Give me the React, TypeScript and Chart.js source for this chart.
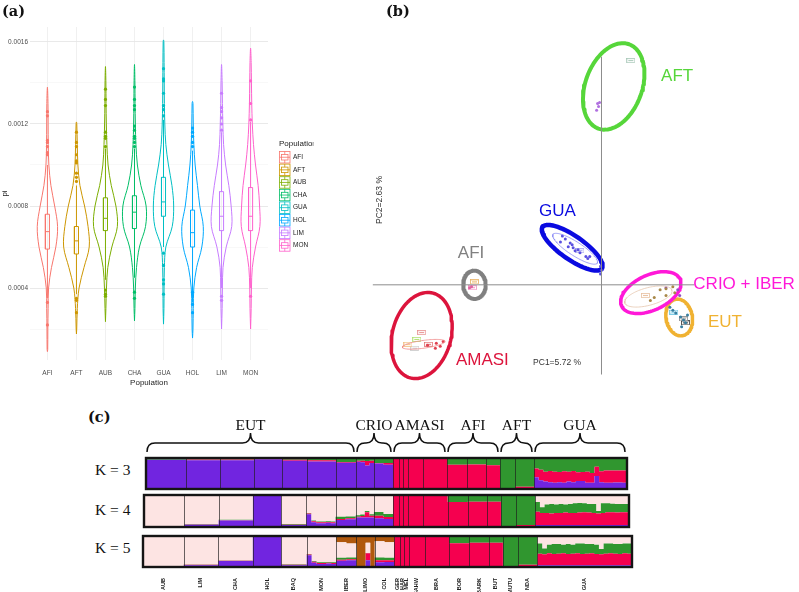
import React, { useEffect, useRef } from "react";
import { Chart, registerables } from "chart.js";
Chart.register(...registerables);
Chart.defaults.font.family = '"Liberation Sans", Arial, sans-serif';

// ---------------- Panel (a): nucleotide diversity (pi) violins ----------------
const popLabels = ["AFI", "AFT", "AUB", "CHA", "GUA", "HOL", "LIM", "MON"];
const popColors = ["#F8766D", "#CD9600", "#7CAE00", "#00BE67", "#00BFC4", "#00A9FF", "#C77CFF", "#FF61CC"];
const piGridLines = [0.0002, 0.0004, 0.0006, 0.0008, 0.001, 0.0012, 0.0014, 0.0016];
const piTicks = [0.0004, 0.0008, 0.0012, 0.0016];
const piLevels = [0.0001, 0.0002, 0.0003, 0.0004, 0.0005, 0.0006, 0.0007, 0.0008, 0.0009, 0.001, 0.0011, 0.0012, 0.0013, 0.0014, 0.0015, 0.0016];
const violinMin = [0.00009, 0.000176, 0.000236, 0.00024, 0.000224, 0.000156, 0.0002, 0.0002];
const violinMax = [0.00138, 0.00121, 0.00148, 0.00149, 0.00161, 0.00131, 0.00149, 0.00157];
const violinAFI = [0.01, 0.015, 0.025, 0.04, 0.14, 0.29, 0.35, 0.25, 0.12, 0.05, 0.03, 0.025, 0.02, 0, 0, 0];
const violinAFT = [0, 0.01, 0.03, 0.09, 0.26, 0.44, 0.40, 0.28, 0.12, 0.05, 0.03, 0.012, 0, 0, 0, 0];
const violinAUB = [0, 0, 0.015, 0.035, 0.08, 0.22, 0.41, 0.36, 0.20, 0.09, 0.05, 0.03, 0.02, 0.015, 0, 0];
const violinCHA = [0, 0, 0.015, 0.03, 0.07, 0.17, 0.38, 0.40, 0.22, 0.10, 0.05, 0.03, 0.02, 0.015, 0, 0];
const violinGUA = [0, 0, 0.015, 0.02, 0.03, 0.08, 0.30, 0.35, 0.29, 0.17, 0.08, 0.045, 0.03, 0.025, 0.02, 0.012];
const violinHOL = [0, 0.015, 0.025, 0.045, 0.14, 0.32, 0.37, 0.25, 0.17, 0.09, 0.045, 0.025, 0.015, 0, 0, 0];
const violinLIM = [0, 0.01, 0.02, 0.03, 0.05, 0.16, 0.35, 0.33, 0.25, 0.14, 0.07, 0.045, 0.03, 0.02, 0, 0];
const violinMON = [0, 0.01, 0.02, 0.03, 0.06, 0.17, 0.32, 0.31, 0.26, 0.17, 0.10, 0.06, 0.04, 0.03, 0.02, 0];
const violinWidths = [violinAFI, violinAFT, violinAUB, violinCHA, violinGUA, violinHOL, violinLIM, violinMON];
const boxQ1 = [0.00059, 0.000566, 0.00068, 0.00069, 0.00075, 0.0006, 0.00068, 0.00068];
const boxMedian = [0.000675, 0.00063, 0.00074, 0.00077, 0.00082, 0.00067, 0.00075, 0.00075];
const boxQ3 = [0.00076, 0.0007, 0.00084, 0.00085, 0.00094, 0.00078, 0.00087, 0.00089];
const whiskerLow = [0.00035, 0.00037, 0.00044, 0.00045, 0.0006, 0.00033, 0.0004, 0.0004];
const whiskerHigh = [0.001, 0.0009, 0.00108, 0.00108, 0.00122, 0.00107, 0.00116, 0.00121];
const outAFI = [0.00126, 0.00124, 0.00112, 0.00111, 0.00109, 0.00106, 0.00105, 0.00033, 0.00022];
const outAFT = [0.00116, 0.00111, 0.00109, 0.00105, 0.00102, 0.00101, 0.00096, 0.00094, 0.00092, 0.00035, 0.00034, 0.00028];
const outAUB = [0.00137, 0.00132, 0.00129, 0.00116, 0.00114, 0.00113, 0.00109, 0.00039, 0.00037, 0.00036];
const outCHA = [0.00138, 0.00132, 0.00129, 0.00127, 0.00119, 0.00117, 0.00114, 0.00113, 0.00111, 0.00109, 0.00038, 0.00035];
const outGUA = [0.00147, 0.00142, 0.00141, 0.00135, 0.00129, 0.00127, 0.00124, 0.00057, 0.00051, 0.00044, 0.00042, 0.00037];
const outHOL = [0.00118, 0.00116, 0.00114, 0.00111, 0.00109, 0.00038, 0.00032, 0.00028];
const outLIM = [0.00135, 0.00128, 0.00126, 0.00123, 0.0012, 0.00117, 0.00036, 0.00034];
const outMON = [0.00141, 0.0013, 0.00122, 0.00036];
const outliers = [outAFI, outAFT, outAUB, outCHA, outGUA, outHOL, outLIM, outMON];

// ---------------- Panel (b): PCA ----------------
const groupNames = ["AFT", "GUA", "AFI", "AMASI", "CRIO + IBER", "EUT"];
const groupColors = ["#56d63a", "#0a0ae0", "#808080", "#dc143c", "#ff18d8", "#f0b232"];
const ellCx = [0.0125, -0.030, -0.130, -0.184, 0.0505, 0.0795];
const ellCy = [0.2035, 0.038, 0.0, -0.052, -0.008, -0.0335];
const ellA = [0.046, 0.037, 0.0115, 0.045, 0.033, 0.019];
const ellB = [0.029, 0.012, 0.0145, 0.030, 0.018, 0.0135];
const ellAngle = [70, -35, 0, 75, 25, 100];
const ellWidth = [4, 4.5, 4, 3.5, 3.5, 3.5];
const labelX = [0.061, -0.064, -0.147, -0.149, 0.094, 0.109];
const labelY = [0.214, 0.075, 0.032, -0.077, 0.001, -0.038];
const innerCx = [-0.027, -0.182, 0.048];
const innerCy = [0.037, -0.061, -0.012];
const innerA = [0.027, 0.022, 0.025];
const innerB = [0.007, 0.004, 0.009];
const innerAngle = [-33, 8, 15];
const innerColors = ["#8a8af5", "#f08a8a", "#e6c6ae"];
const pcAxisX = [-0.234, 0.095];
const pcAxisY = [-0.092, 0.234];
const ptsAFT = [[-0.004, 0.186], [-0.005, 0.179], [-0.003, 0.183], [-0.002, 0.187]];
const ptsGUA = [[-0.040, 0.050], [-0.037, 0.047], [-0.042, 0.044], [-0.032, 0.043], [-0.034, 0.039], [-0.030, 0.041], [-0.027, 0.035], [-0.024, 0.036], [-0.029, 0.038], [-0.022, 0.033], [-0.016, 0.029], [-0.014, 0.027], [-0.012, 0.029], [-0.001, 0.019], [0.0, 0.015], [-0.001, 0.011]];
const ptsAFI = [[-0.135, -0.003], [-0.133, -0.002]];
const ptsAMASI = [[-0.169, -0.060], [-0.165, -0.063], [-0.170, -0.065], [-0.162, -0.058], [-0.178, -0.062]];
const ptsCRIO = [[0.060, -0.005], [0.066, -0.004], [0.073, -0.002], [0.075, -0.008], [0.054, -0.013], [0.050, -0.016], [0.066, -0.011]];
const ptsIBER = [[0.066, -0.003], [0.078, -0.005], [0.080, -0.011]];
const ptsEUT = [[0.070, -0.023], [0.073, -0.026], [0.076, -0.029], [0.081, -0.033], [0.084, -0.036], [0.086, -0.039], [0.088, -0.031], [0.082, -0.043]];
const tagX = [0.030, -0.130, -0.132, -0.184, -0.189, -0.198, -0.177, -0.191, 0.045, 0.074, 0.084, 0.086, -0.022];
const tagY = [0.230, 0.003, -0.003, -0.049, -0.056, -0.061, -0.061, -0.065, -0.011, -0.028, -0.035, -0.039, 0.035];
const tagColors = ["#a8c8b8", "#e8b060", "#f090c0", "#e89090", "#b0e070", "#f0c080", "#e07070", "#c8c8c8", "#e8c0a0", "#60c0e0", "#808080", "#303030", "#a0a0f0"];

// ---------------- Panel (c): ancestry proportions ----------------
const structPops = ["AUB", "LIM", "CHA", "HOL", "BAQ", "MON", "IBER", "LIMO", "COL", "GER", "HAR", "MEL", "SAHW", "BRA", "BOR", "BARK", "BUT", "MUTU", "NDA", "GUA"];
const structSizes = [40, 34, 34, 28, 25, 29, 20, 18, 19, 6, 4, 5, 15, 24, 20, 19, 14, 15, 19, 93];
const clusterColors = ["#7125e0", "#f5004f", "#30962f", "#fde4e3", "#b0580c"];
const groupLabels = ["EUT", "CRIO", "AMASI", "AFI", "AFT", "GUA"];
const groupFirst = [0, 7, 9, 14, 17, 19];
const groupLast = [6, 8, 13, 16, 18, 19];

const guaK3 = [[.38, .28, .34], [.28, .34, .38], [.24, .32, .44], [.22, .36, .42], [.20, .36, .44], [.22, .33, .45], [.20, .37, .43], [.24, .32, .44], [.22, .36, .42], [.26, .28, .46], [.26, .29, .45], [.20, .36, .44], [.20, .32, .48], [.42, .30, .28], [.22, .35, .43], [.20, .40, .40], [.20, .40, .40], [.21, .39, .40], [.21, .39, .40], [.20, .40, .40]];
const guaK4 = [[.06, .42, .30, .22], [.06, .38, .18, .38], [.06, .38, .26, .30], [.06, .36, .30, .28], [.06, .38, .26, .30], [.06, .38, .28, .28], [.06, .39, .25, .30], [.06, .38, .28, .28], [.06, .38, .30, .26], [.06, .39, .30, .25], [.06, .40, .28, .26], [.06, .39, .27, .28], [.06, .38, .28, .28], [.06, .36, .08, .50], [.06, .38, .30, .26], [.06, .40, .28, .26], [.06, .40, .27, .27], [.06, .39, .27, .28], [.06, .40, .26, .28], [.06, .40, .26, .28]];
const guaK5 = [[.06, .37, .33, .20, .04], [.06, .35, .19, .36, .04], [.06, .38, .28, .24, .04], [.06, .36, .32, .22, .04], [.06, .37, .31, .22, .04], [.06, .38, .28, .24, .04], [.06, .36, .32, .22, .04], [.06, .37, .29, .24, .04], [.06, .38, .32, .20, .04], [.06, .36, .34, .20, .04], [.06, .37, .31, .22, .04], [.06, .38, .30, .22, .04], [.06, .36, .30, .24, .04], [.06, .35, .17, .38, .04], [.06, .37, .33, .20, .04], [.06, .38, .32, .20, .04], [.06, .37, .31, .22, .04], [.06, .36, .32, .22, .04], [.06, .38, .32, .20, .04], [.06, .37, .33, .20, .04]];

const k3Props = [
  [[0.94, 0, 0.06]], [[0.93, 0.02, 0.05]], [[0.93, 0.02, 0.05]], [[0.96, 0.03, 0.01]], [[0.91, 0.03, 0.06]], [[0.89, 0.04, 0.07]],
  [[0.85, 0.02, 0.13]],
  [[0.88, 0.03, 0.09], [0.86, 0.05, 0.09], [0.76, 0.14, 0.10], [0.84, 0.07, 0.09]],
  [[0.82, 0.02, 0.16], [0.78, 0.06, 0.16]],
  [[0, 1, 0]], [[0, 1, 0]], [[0, 1, 0]], [[0.01, 0.99, 0]], [[0.02, 0.98, 0], [0, 1, 0]],
  [[0, 0.78, 0.22]], [[0, 0.79, 0.21]], [[0.01, 0.76, 0.23]],
  [[0, 0.01, 0.99]], [[0, 0.07, 0.93]],
  guaK3,
];
const k4Props = [
  [[0.02, 0, 0, 0.98]], [[0.07, 0.01, 0.01, 0.91]], [[0.2, 0.01, 0.02, 0.77]], [[1, 0, 0, 0]], [[0.06, 0.01, 0.02, 0.91]],
  [[0.4, 0.02, 0.02, 0.56], [0.15, 0.03, 0.02, 0.8], [0.12, 0.03, 0.02, 0.83], [0.12, 0.03, 0.02, 0.83], [0.13, 0.03, 0.02, 0.82], [0.12, 0.03, 0.02, 0.83]],
  [[0.22, 0.03, 0.07, 0.68], [0.24, 0.03, 0.06, 0.67]],
  [[0.3, 0.02, 0.05, 0.63], [0.3, 0.04, 0.05, 0.61], [0.3, 0.16, 0.04, 0.5], [0.3, 0.05, 0.05, 0.6]],
  [[0.27, 0.08, 0.12, 0.53], [0.25, 0.06, 0.1, 0.59]],
  [[0, 1, 0, 0]], [[0, 1, 0, 0]], [[0, 1, 0, 0]], [[0.01, 0.99, 0, 0]], [[0.01, 0.96, 0, 0.03], [0, 1, 0, 0]],
  [[0, 0.78, 0.22, 0]], [[0, 0.79, 0.21, 0]], [[0.01, 0.78, 0.21, 0]],
  [[0, 0.01, 0.99, 0]], [[0, 0.06, 0.94, 0]],
  guaK4,
];
const k5Props = [
  [[0.02, 0, 0, 0.96, 0.02]], [[0.06, 0.01, 0.01, 0.9, 0.02]], [[0.19, 0.01, 0.01, 0.77, 0.02]], [[1, 0, 0, 0, 0]], [[0.06, 0.01, 0.02, 0.88, 0.03]],
  [[0.38, 0.02, 0.02, 0.55, 0.03], [0.14, 0.03, 0.02, 0.78, 0.03], [0.1, 0.03, 0.02, 0.82, 0.03], [0.1, 0.03, 0.02, 0.82, 0.03], [0.11, 0.03, 0.02, 0.81, 0.03], [0.1, 0.03, 0.02, 0.82, 0.03]],
  [[0.2, 0.03, 0.07, 0.5, 0.2], [0.22, 0.03, 0.06, 0.45, 0.24]],
  [[0, 0, 0, 0, 1], [0, 0, 0, 0, 1], [0.22, 0.22, 0.01, 0.33, 0.22], [0, 0, 0, 0, 1]],
  [[0.15, 0.07, 0.09, 0.52, 0.17], [0.16, 0.06, 0.08, 0.5, 0.2]],
  [[0, 1, 0, 0, 0]], [[0, 1, 0, 0, 0]], [[0, 1, 0, 0, 0]], [[0.01, 0.99, 0, 0, 0]], [[0.01, 0.96, 0, 0.03, 0], [0, 1, 0, 0, 0]],
  [[0, 0.77, 0.23, 0, 0]], [[0, 0.78, 0.22, 0, 0]], [[0.01, 0.77, 0.22, 0, 0]],
  [[0, 0.01, 0.99, 0, 0]], [[0, 0.07, 0.93, 0, 0]],
  guaK5,
];

// ---------------- helpers ----------------
function violinPoints(i: number) {
  const c = i + 1;
  const w = violinWidths[i];
  const pts: any[] = [{ x: c, y: violinMin[i] }];
  piLevels.forEach((lv, j) => {
    if (lv > violinMin[i] && lv < violinMax[i]) pts.push({ x: c + w[j], y: lv });
  });
  pts.push({ x: c, y: violinMax[i] });
  for (let j = piLevels.length - 1; j >= 0; j--) {
    const lv = piLevels[j];
    if (lv > violinMin[i] && lv < violinMax[i]) pts.push({ x: c - w[j], y: lv });
  }
  pts.push({ x: c, y: violinMin[i] });
  return pts;
}

function ellipse(cx: number, cy: number, a: number, b: number, deg: number) {
  const th = (deg * Math.PI) / 180;
  const pts: any[] = [];
  for (let k = 0; k < 96; k++) {
    const t = (k / 96) * Math.PI * 2;
    pts.push({
      x: cx + a * Math.cos(t) * Math.cos(th) - b * Math.sin(t) * Math.sin(th),
      y: cy + a * Math.cos(t) * Math.sin(th) + b * Math.sin(t) * Math.cos(th),
    });
  }
  pts.push({ ...pts[0] });
  pts.push({ ...pts[1] });
  return pts;
}

function tagImage(color: string) {
  const c = document.createElement("canvas");
  c.width = 9;
  c.height = 5;
  const g = c.getContext("2d")!;
  g.fillStyle = "rgba(255,255,255,0.6)";
  g.fillRect(0, 0, 9, 5);
  g.strokeStyle = color;
  g.lineWidth = 0.8;
  g.strokeRect(0.5, 0.5, 8, 4);
  g.fillStyle = color;
  g.fillRect(2, 2, 5, 1);
  return c;
}

const boundaries: number[] = [0];
structSizes.forEach((s) => boundaries.push(boundaries[boundaries.length - 1] + s));
const structTotal = boundaries[boundaries.length - 1];
const popCenters = structSizes.map((s, i) => boundaries[i] + s / 2);

function structDatasets(props: number[][][], k: number) {
  const ds: any[] = [];
  for (let c = 0; c < k; c++) {
    ds.push({
      data: [],
      backgroundColor: clusterColors[c],
      borderColor: clusterColors[c],
      borderWidth: 0,
      pointRadius: 0,
      tension: 0,
      fill: c === 0 ? "origin" : "-1",
    });
  }
  props.forEach((segs, i) => {
    const w = structSizes[i] / segs.length;
    segs.forEach((seg, j) => {
      const x0 = boundaries[i] + j * w;
      const x1 = x0 + w;
      const tot = seg.reduce((a, b) => a + b, 0);
      let cum = 0;
      for (let c = 0; c < k; c++) {
        cum += (seg[c] || 0) / tot;
        const y = c === k - 1 ? 1 : cum;
        ds[c].data.push({ x: x0, y }, { x: x1, y });
      }
    });
  });
  return ds;
}

const structPlugin = (withBraces: boolean) => ({
  id: "structDeco",
  afterDatasetsDraw(chart: any) {
    const { ctx, chartArea } = chart;
    const xs = chart.scales.x;
    ctx.save();
    ctx.strokeStyle = "rgba(30,30,30,0.85)";
    ctx.lineWidth = 0.8;
    for (let i = 1; i < boundaries.length - 1; i++) {
      const px = Math.round(xs.getPixelForValue(boundaries[i])) + 0.5;
      ctx.beginPath();
      ctx.moveTo(px, chartArea.top);
      ctx.lineTo(px, chartArea.bottom);
      ctx.stroke();
    }
    ctx.strokeStyle = "#151515";
    ctx.lineWidth = 2.4;
    ctx.strokeRect(chartArea.left, chartArea.top, chartArea.right - chartArea.left, chartArea.bottom - chartArea.top);
    if (withBraces) {
      const yb = chartArea.top - 6;
      const ym = chartArea.top - 15;
      const yt = chartArea.top - 25;
      ctx.strokeStyle = "#111";
      ctx.lineWidth = 1.5;
      groupLabels.forEach((g, gi) => {
        const x0 = xs.getPixelForValue(boundaries[groupFirst[gi]]) + 1;
        const x1 = xs.getPixelForValue(boundaries[groupLast[gi] + 1]) - 2;
        const xc = (x0 + x1) / 2;
        const r = Math.min(8, (x1 - x0) / 4);
        ctx.beginPath();
        ctx.moveTo(x0, yb);
        ctx.quadraticCurveTo(x0, ym, x0 + r, ym);
        ctx.lineTo(xc - r, ym);
        ctx.quadraticCurveTo(xc, ym, xc, yt);
        ctx.quadraticCurveTo(xc, ym, xc + r, ym);
        ctx.lineTo(x1 - r, ym);
        ctx.quadraticCurveTo(x1, ym, x1, yb);
        ctx.stroke();
        ctx.fillStyle = "#111";
        ctx.font = '15.5px "Liberation Serif", serif';
        ctx.textAlign = "center";
        ctx.textBaseline = "alphabetic";
        ctx.fillText(g, xc, yt - 3);
      });
    }
    ctx.restore();
  },
});

function makeStruct(canvas: HTMLCanvasElement, props: number[][][], k: number, padding: any, labels: boolean, braces: boolean) {
  return new Chart(canvas, {
    type: "line",
    data: { datasets: structDatasets(props, k) },
    options: {
      animation: false,
      responsive: false,
      events: [],
      layout: { padding },
      plugins: { legend: { display: false }, tooltip: { enabled: false } },
      scales: {
        x: {
          type: "linear",
          min: 0,
          max: structTotal,
          display: labels,
          grid: { display: false },
          border: { display: false },
          afterBuildTicks: (s: any) => {
            s.ticks = popCenters.map((v) => ({ value: v }));
          },
          afterFit: (s: any) => {
            s.height = labels ? 25 : 0;
          },
          ticks: {
            autoSkip: false,
            minRotation: 90,
            maxRotation: 90,
            padding: 3,
            color: "#222",
            font: { size: 5.5, weight: "bold" },
            callback: (_v: any, i: number) => structPops[i],
          },
        },
        y: {
          min: 0,
          max: 1,
          display: false,
          afterFit: (s: any) => {
            s.width = 0;
          },
        },
      },
    } as any,
    plugins: [structPlugin(braces)],
  });
}

function makeViolin(canvas: HTMLCanvasElement) {
  const datasets: any[] = [];
  popLabels.forEach((_, i) => {
    const c = i + 1;
    const h = 0.07;
    datasets.push({ data: violinPoints(i), showLine: true, borderColor: popColors[i], borderWidth: 1, pointRadius: 0, tension: 0.35, fill: false, borderJoinStyle: "round" });
    datasets.push({ data: [{ x: c, y: whiskerLow[i] }, { x: c, y: boxQ1[i] }], showLine: true, borderColor: popColors[i], borderWidth: 1, pointRadius: 0 });
    datasets.push({ data: [{ x: c, y: boxQ3[i] }, { x: c, y: whiskerHigh[i] }], showLine: true, borderColor: popColors[i], borderWidth: 1, pointRadius: 0 });
    datasets.push({
      data: [{ x: c - h, y: boxQ1[i] }, { x: c + h, y: boxQ1[i] }, { x: c + h, y: boxQ3[i] }, { x: c - h, y: boxQ3[i] }, { x: c - h, y: boxQ1[i] }],
      showLine: true, borderColor: popColors[i], borderWidth: 1, pointRadius: 0, tension: 0,
    });
    datasets.push({ data: [{ x: c - h, y: boxMedian[i] }, { x: c + h, y: boxMedian[i] }], showLine: true, borderColor: popColors[i], borderWidth: 1, pointRadius: 0 });
    datasets.push({ data: outliers[i].map((v) => ({ x: c, y: v })), showLine: false, pointRadius: 1.6, backgroundColor: popColors[i], borderWidth: 0 });
  });
  const legendPlugin = {
    id: "violinLegend",
    afterDraw(chart: any) {
      const ctx = chart.ctx;
      ctx.save();
      ctx.textBaseline = "middle";
      ctx.textAlign = "left";
      ctx.fillStyle = "#222";
      ctx.font = '8px "Liberation Sans", sans-serif';
      ctx.save();
      ctx.beginPath();
      ctx.rect(275, 135, 38.5, 20);
      ctx.clip();
      ctx.fillText("Population", 279, 144);
      ctx.restore();
      popLabels.forEach((p, i) => {
        const x = 279.5;
        const y = 151 + i * 12.6;
        ctx.strokeStyle = popColors[i];
        ctx.lineWidth = 0.8;
        ctx.strokeRect(x, y + 0.5, 10.5, 11.5);
        ctx.strokeRect(x + 2, y + 3.5, 6.5, 5.5);
        ctx.beginPath();
        ctx.moveTo(x, y + 6.25);
        ctx.lineTo(x + 10.5, y + 6.25);
        ctx.moveTo(x + 5.25, y + 0.5);
        ctx.lineTo(x + 5.25, y + 3.5);
        ctx.moveTo(x + 5.25, y + 9);
        ctx.lineTo(x + 5.25, y + 12);
        ctx.stroke();
        ctx.fillStyle = "#222";
        ctx.font = '6.5px "Liberation Sans", sans-serif';
        ctx.fillText(p, 293, y + 6.3);
      });
      ctx.restore();
    },
  };
  return new Chart(canvas, {
    type: "scatter",
    data: { datasets },
    options: {
      animation: false,
      responsive: false,
      events: [],
      layout: { padding: { top: 27, right: 92, left: 0, bottom: 0 } },
      plugins: { legend: { display: false }, tooltip: { enabled: false } },
      scales: {
        x: {
          type: "linear",
          min: 0.4,
          max: 8.6,
          afterBuildTicks: (s: any) => {
            s.ticks = popLabels.map((_, i) => ({ value: i + 1 }));
          },
          afterFit: (s: any) => {
            s.height = 30;
          },
          grid: { color: "#ececec", lineWidth: 0.8, drawTicks: false },
          border: { display: false },
          ticks: { padding: 9, color: "#4d4d4d", font: { size: 6.5 }, callback: (_v: any, i: number) => popLabels[i] },
          title: { display: true, text: "Population", color: "#222", font: { size: 8 }, padding: { top: 0, bottom: 2 } },
        },
        y: {
          type: "linear",
          min: 0.000049,
          max: 0.001673,
          afterBuildTicks: (s: any) => {
            s.ticks = piGridLines.map((v) => ({ value: v }));
          },
          afterFit: (s: any) => {
            s.width = 30;
          },
          grid: {
            color: (ctx: any) => (ctx.tick && piTicks.includes(ctx.tick.value) ? "#e6e6e6" : "#f3f3f3"),
            lineWidth: (ctx: any) => (ctx.tick && piTicks.includes(ctx.tick.value) ? 0.9 : 0.6),
            drawTicks: false,
          },
          border: { display: false },
          ticks: {
            padding: 2,
            color: "#4d4d4d",
            font: { size: 6.5 },
            callback: (v: any) => (piTicks.includes(v) ? Number(v).toFixed(4) : ""),
          },
          title: { display: true, text: "pi", color: "#222", font: { size: 8 }, padding: { top: 0, bottom: 0 } },
        },
      },
    } as any,
    plugins: [legendPlugin],
  });
}

function makePca(canvas: HTMLCanvasElement) {
  const datasets: any[] = [];
  datasets.push({ data: [{ x: pcAxisX[0], y: 0 }, { x: pcAxisX[1], y: 0 }], showLine: true, borderColor: "#8c8c8c", borderWidth: 1, pointRadius: 0 });
  datasets.push({ data: [{ x: 0, y: pcAxisY[0] }, { x: 0, y: pcAxisY[1] }], showLine: true, borderColor: "#8c8c8c", borderWidth: 1, pointRadius: 0 });
  innerCx.forEach((_, i) => {
    datasets.push({ data: ellipse(innerCx[i], innerCy[i], innerA[i], innerB[i], innerAngle[i]), showLine: true, borderColor: innerColors[i], borderWidth: 0.8, pointRadius: 0, tension: 0, borderJoinStyle: "round", borderCapStyle: "round" });
  });
  const ptGroups: [number[][], string][] = [
    [ptsAFT, "#b070e0"], [ptsGUA, "#5a50e0"], [ptsAFI, "#e060a0"], [ptsAMASI, "#e04050"],
    [ptsCRIO, "#a88848"], [ptsIBER, "#9050c0"], [ptsEUT, "#3a7fa0"],
  ];
  ptGroups.forEach(([pts, col]) => {
    datasets.push({ data: pts.map((p) => ({ x: p[0], y: p[1] })), showLine: false, pointRadius: 1.5, backgroundColor: col, borderWidth: 0 });
  });
  tagX.forEach((_, i) => {
    datasets.push({ data: [{ x: tagX[i], y: tagY[i] }], showLine: false, pointStyle: tagImage(tagColors[i]), pointRadius: 4 });
  });
  groupNames.forEach((_, i) => {
    datasets.push({ data: ellipse(ellCx[i], ellCy[i], ellA[i], ellB[i], ellAngle[i]), showLine: true, borderColor: groupColors[i], borderWidth: ellWidth[i], pointRadius: 0, tension: 0, borderJoinStyle: "round", borderCapStyle: "round" });
  });
  const textPlugin = {
    id: "pcaText",
    afterDatasetsDraw(chart: any) {
      const { ctx } = chart;
      const xs = chart.scales.x;
      const ys = chart.scales.y;
      ctx.save();
      ctx.textBaseline = "middle";
      ctx.textAlign = "left";
      groupNames.forEach((g, i) => {
        ctx.fillStyle = groupColors[i];
        ctx.font = '17px "Liberation Sans", sans-serif';
        ctx.fillText(g, xs.getPixelForValue(labelX[i]), ys.getPixelForValue(labelY[i]));
      });
      ctx.fillStyle = "#333";
      ctx.font = '8.5px "Liberation Sans", sans-serif';
      ctx.fillText("PC1=5.72 %", xs.getPixelForValue(-0.070), ys.getPixelForValue(-0.080));
      ctx.translate(xs.getPixelForValue(-0.227), ys.getPixelForValue(0.087));
      ctx.rotate(-Math.PI / 2);
      ctx.textAlign = "center";
      ctx.fillText("PC2=2.63 %", 0, 0);
      ctx.restore();
    },
  };
  return new Chart(canvas, {
    type: "scatter",
    data: { datasets },
    options: {
      animation: false,
      responsive: false,
      events: [],
      layout: { padding: 0 },
      plugins: { legend: { display: false }, tooltip: { enabled: false } },
      scales: {
        x: { type: "linear", min: -0.242, max: 0.197, display: false },
        y: { type: "linear", min: -0.113, max: 0.287, display: false },
      },
    } as any,
    plugins: [textPlugin],
  });
}

const abs = (l: number, t: number, w: number, h: number): React.CSSProperties => ({ position: "absolute", left: l, top: t, width: w, height: h });
const panelLabel: React.CSSProperties = { position: "absolute", font: 'bold 14.5px "DejaVu Serif", serif', lineHeight: "14.5px", color: "#111", whiteSpace: "nowrap" };
const kLabel: React.CSSProperties = { position: "absolute", font: '15.5px "Liberation Serif", serif', lineHeight: "15.5px", color: "#111", whiteSpace: "nowrap" };

export default function App() {
  const aRef = useRef<HTMLCanvasElement>(null);
  const bRef = useRef<HTMLCanvasElement>(null);
  const k3Ref = useRef<HTMLCanvasElement>(null);
  const k4Ref = useRef<HTMLCanvasElement>(null);
  const k5Ref = useRef<HTMLCanvasElement>(null);
  useEffect(() => {
    const charts: Chart[] = [];
    charts.push(makeViolin(aRef.current!));
    charts.push(makePca(bRef.current!));
    charts.push(makeStruct(k3Ref.current!, k3Props, 3, { left: 6, right: 7, top: 46, bottom: 3 }, false, true));
    charts.push(makeStruct(k4Ref.current!, k4Props, 4, { left: 4, right: 5, top: 3, bottom: 3 }, false, false));
    charts.push(makeStruct(k5Ref.current!, k5Props, 5, { left: 3, right: 4, top: 4, bottom: 0 }, true, false));
    return () => charts.forEach((c) => c.destroy());
  }, []);
  return (
    <div style={{ position: "fixed", left: 0, top: 0, width: 799, height: 592, background: "#fff", overflow: "hidden" }}>
      <canvas ref={aRef} width={360} height={390} style={abs(0, 0, 360, 390)} />
      <canvas ref={bRef} width={439} height={400} style={abs(360, 0, 439, 400)} />
      <canvas ref={k3Ref} width={494} height={80} style={abs(140, 412, 494, 80)} />
      <canvas ref={k4Ref} width={494} height={38} style={abs(140, 492, 494, 38)} />
      <canvas ref={k5Ref} width={496} height={60} style={abs(140, 532, 496, 60)} />
      <div style={{ ...panelLabel, left: 2, top: 4 }}>(a)</div>
      <div style={{ ...panelLabel, left: 386, top: 4 }}>(b)</div>
      <div style={{ ...panelLabel, left: 88, top: 410 }}>(c)</div>
      <div style={{ ...kLabel, left: 95, top: 462 }}>K = 3</div>
      <div style={{ ...kLabel, left: 95, top: 502 }}>K = 4</div>
      <div style={{ ...kLabel, left: 95, top: 540 }}>K = 5</div>
    </div>
  );
}
